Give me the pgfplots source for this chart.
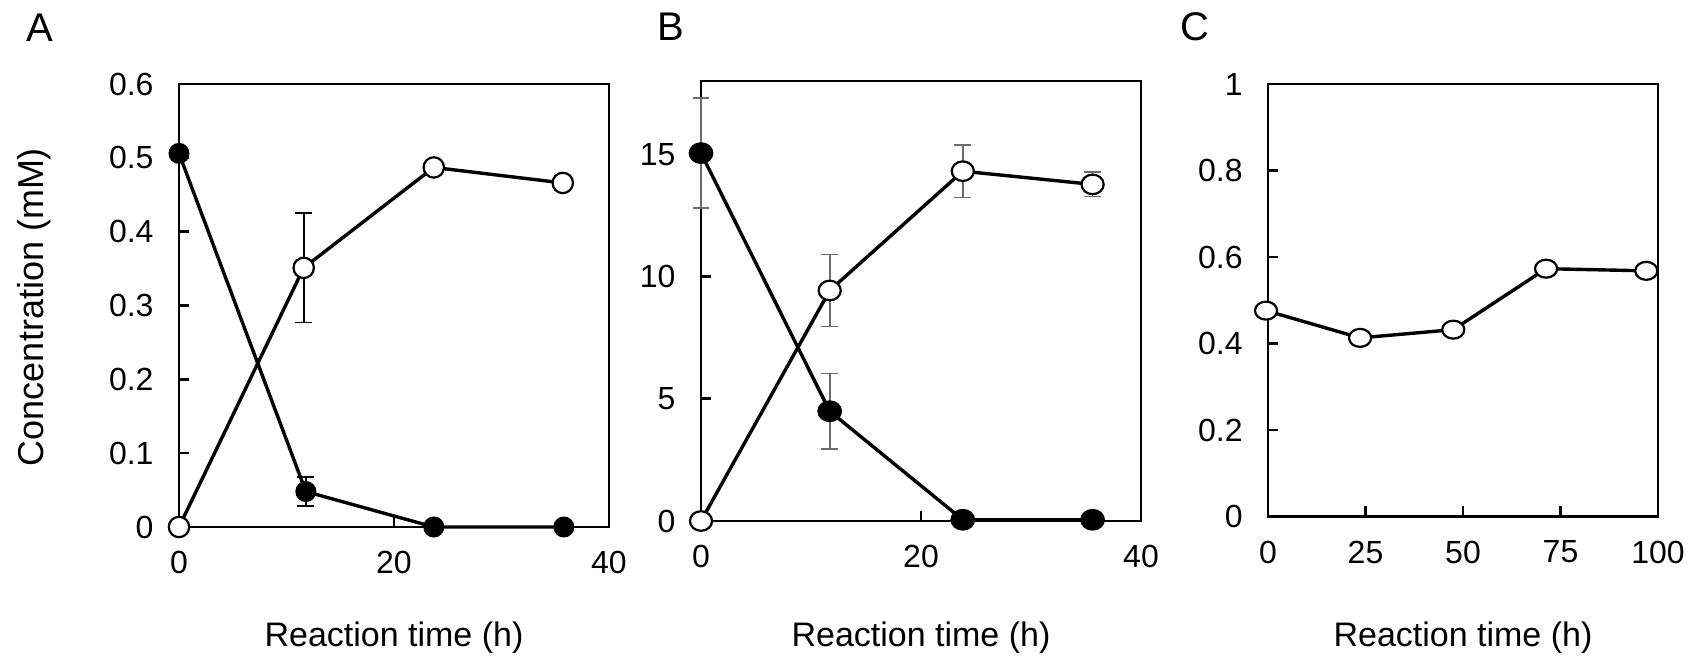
\documentclass[border=0pt]{standalone}
\usepackage{fontspec}
\setmainfont{Liberation Sans}
\usepackage{pgfplots}
\pgfplotsset{compat=1.18}

\pgfplotstableread{
x y e
0 0 0
11.6 0.351 0.074
23.7 0.487 0
35.7 0.466 0.01
}\Aopen
\pgfplotstableread{
x y e
0 0.506 0.005
11.8 0.048 0.02
23.7 0 0
35.8 0 0
}\Afill
\pgfplotstableread{
x y e
0 0 0
11.7 9.43 1.47
23.8 14.31 1.08
35.6 13.77 0.5
}\Bopen
\pgfplotstableread{
x y e
0 15.05 2.25
11.7 4.49 1.55
23.8 0.05 0
35.6 0.05 0
}\Bfill
\pgfplotstableread{
x y
-0.5 0.476
23.6 0.413
47.5 0.432
71.3 0.573
97.0 0.568
}\Cdata

\pgfplotsset{
  panel/.style={
    scale only axis, clip=false, anchor=south west,
    axis line style={line width=1.35pt},
    every tick/.style={black, line width=1.3pt},
    tick align=inside, major tick length=5.2pt,
    xtick pos=left, ytick pos=left,
    /pgf/number format/assume math mode=true,
    /pgf/number format/fixed,
    tick label style={font=\fontsize{16}{19}\selectfont},
    xticklabel style={yshift=-8.7pt},
    yticklabel style={xshift=-9.2pt},
    xlabel style={font=\fontsize{17}{20}\selectfont, at={(axis description cs:0.5,0)}, anchor=center},
  },
  openmk/.style={black, line width=1.7pt, mark=*, mark options={fill=white, draw=black, line width=1.1pt, xscale=#1}},
  fillmk/.style={black, line width=1.7pt, mark=*, mark options={fill=black, draw=black, line width=1.1pt, xscale=#1}},
  eb/.style={error bars/y dir=both, error bars/y explicit,
    error bars/error bar style={line width=0.85pt, #1},
    error bars/error mark options={rotate=90, mark size=4.2pt, line width=0.85pt, #1}},
}

\begin{document}
\begin{tikzpicture}
\useasboundingbox (0,0) rectangle (847.5pt,329pt);

% Panel A
\begin{axis}[panel, at={(89.5pt,65.5pt)}, width=215pt, height=221.5pt,
  xmin=0, xmax=40, ymin=0, ymax=0.6, xtick={0,20,40}, ytick={0,0.1,...,0.6},
  yticklabels={0,0.1,0.2,0.3,0.4,0.5,0.6},
  xlabel={Reaction time (h)}, xlabel style={yshift=-55.5pt}]
\addplot[openmk=1, mark size=5.1pt, eb=black] table[x=x, y=y, y error=e] {\Aopen};
\addplot[fillmk=1, mark size=4.7pt, eb=black] table[x=x, y=y, y error=e] {\Afill};
\end{axis}

% Panel B
\begin{axis}[panel, at={(350.5pt,68.5pt)}, width=220pt, height=220pt,
  xmin=0, xmax=40, ymin=0, ymax=18, xtick={0,20,40}, ytick={0,5,10,15},
  xlabel={Reaction time (h)}, xlabel style={yshift=-58.5pt}]
\addplot[openmk=1.13, mark size=4.9pt, eb={black!58}] table[x=x, y=y, y error=e] {\Bopen};
\addplot[fillmk=1.15, mark size=4.9pt, eb={black!58}] table[x=x, y=y, y error=e] {\Bfill};
\end{axis}

% Panel C
\begin{axis}[panel, at={(634pt,70.75pt)}, width=195pt, height=216.25pt,
  xmin=0, xmax=100, ymin=0, ymax=1, xtick={0,25,50,75,100}, ytick={0,0.2,...,1},
  yticklabels={0,0.2,0.4,0.6,0.8,1},
  xlabel={Reaction time (h)}, xlabel style={yshift=-60.75pt}]
\addplot[openmk=1.23, mark size=4.5pt] table[x=x, y=y] {\Cdata};
\end{axis}

\node[rotate=90, font=\fontsize{18}{21}\selectfont] at (17pt,175.5pt) {Concentration (mM)};
\node[font=\fontsize{20}{24}\selectfont] at (19.75pt,315.25pt) {A};
\node[font=\fontsize{20}{24}\selectfont] at (335.5pt,315.5pt) {B};
\node[font=\fontsize{20}{24}\selectfont] at (597.5pt,315.5pt) {C};
\end{tikzpicture}
\end{document}
